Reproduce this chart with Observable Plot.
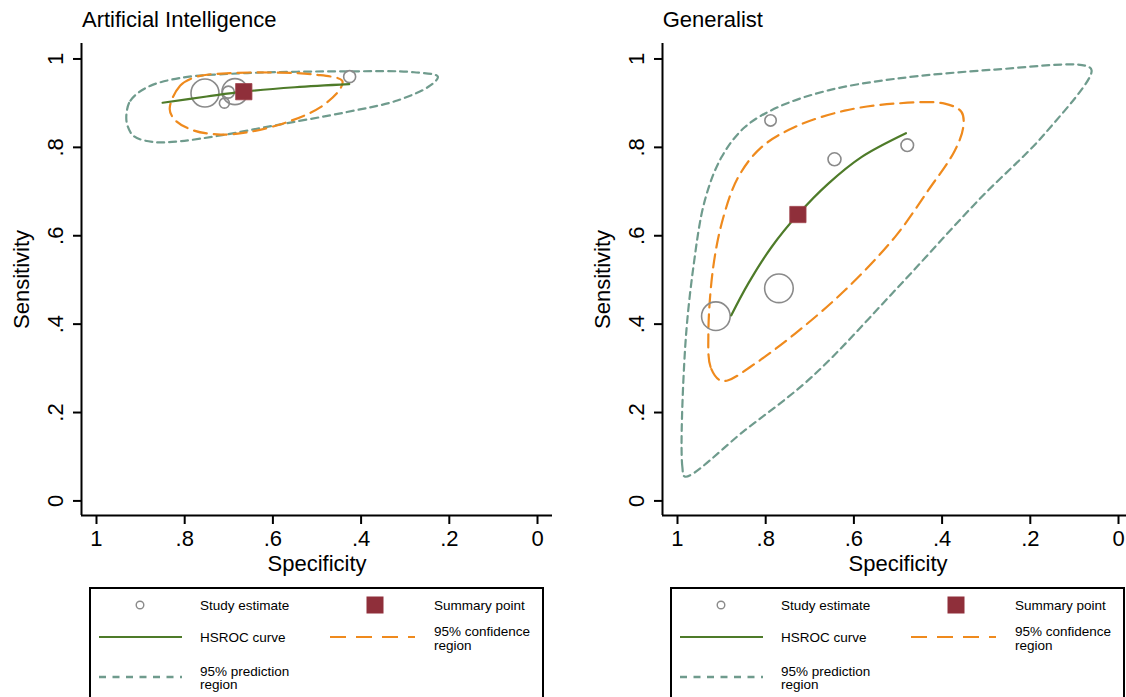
<!DOCTYPE html>
<html>
<head>
<meta charset="utf-8">
<script src="https://cdn.jsdelivr.net/npm/d3@7"></script>
<script src="https://cdn.jsdelivr.net/npm/@observablehq/plot@0.6"></script>
<style>
  html, body { margin: 0; padding: 0; background: #fff; overflow: hidden; }
  body { width: 1126px; height: 697px; position: relative; font-family: "Liberation Sans", Arial, sans-serif; }
  .panel { position: absolute; top: 0; width: 580px; height: 580px; }
  .panel svg { max-width: none !important; width: 580px !important; height: 580px !important; }
  .title { position: absolute; top: 9px; font-size: 22px; line-height: 22px; color: #000; white-space: nowrap; }
  .legend { position: absolute; top: 587px; }
  svg [aria-label="x-axis tick"] path, svg [aria-label="y-axis tick"] path, svg .tick line { stroke-width: 2; }
</style>
</head>
<body>
<script>
// ---------- data ----------
const xTicks = [1, 0.8, 0.6, 0.4, 0.2, 0];
const yTicks = [0, 0.2, 0.4, 0.6, 0.8, 1];
const tickValues = [0, 0.2, 0.4, 0.6, 0.8, 1];
const tickLabels = ["0", ".2", ".4", ".6", ".8", "1"];
const panelTitles = ["Artificial Intelligence", "Generalist"];

// Artificial Intelligence: [specificity, sensitivity, radius weight]
const aiStudies = [[0.754, 0.923, 14], [0.686, 0.926, 13], [0.701, 0.925, 6], [0.710, 0.900, 5], [0.426, 0.960, 6]];
const aiSummary = [[0.666, 0.926]];
const aiHsroc = [[0.850, 0.901], [0.75, 0.915], [0.666, 0.926], [0.55, 0.936], [0.427, 0.943]];
const aiConf = [[0.834, 0.887], [0.810, 0.940], [0.772, 0.960], [0.696, 0.968], [0.583, 0.969], [0.507, 0.965],
  [0.443, 0.951], [0.447, 0.933], [0.492, 0.891], [0.568, 0.857], [0.658, 0.834], [0.719, 0.829], [0.779, 0.838], [0.821, 0.861]];
const aiPred = [[0.932, 0.876], [0.923, 0.906], [0.885, 0.936], [0.810, 0.957], [0.658, 0.968], [0.432, 0.972], [0.280, 0.970],
  [0.226, 0.960], [0.243, 0.940], [0.318, 0.906], [0.432, 0.880], [0.583, 0.852], [0.719, 0.827], [0.810, 0.814],
  [0.870, 0.812], [0.915, 0.825], [0.930, 0.850]];

// Generalist
const genStudies = [[0.913, 0.418, 14.3], [0.770, 0.481, 14.3], [0.789, 0.861, 5.7], [0.644, 0.773, 6.5], [0.479, 0.805, 6.3]];
const genSummary = [[0.727, 0.648]];
const genHsroc = [[0.878, 0.420], [0.840, 0.491], [0.787, 0.574], [0.727, 0.648], [0.658, 0.718], [0.583, 0.778], [0.482, 0.832]];
const genConf = [[0.904, 0.273], [0.925, 0.303], [0.930, 0.378], [0.919, 0.529], [0.896, 0.642], [0.862, 0.733], [0.810, 0.800],
  [0.734, 0.846], [0.621, 0.883], [0.507, 0.899], [0.394, 0.899], [0.356, 0.880], [0.352, 0.846], [0.371, 0.793],
  [0.432, 0.702], [0.507, 0.597], [0.621, 0.476], [0.734, 0.378], [0.825, 0.310], [0.885, 0.273]];
const genPred = [[0.983, 0.055], [0.989, 0.077], [0.983, 0.341], [0.964, 0.529], [0.938, 0.680], [0.900, 0.778], [0.847, 0.846],
  [0.772, 0.891], [0.658, 0.929], [0.507, 0.955], [0.280, 0.976], [0.076, 0.985], [0.061, 0.974], [0.167, 0.831],
  [0.318, 0.680], [0.507, 0.476], [0.696, 0.280], [0.847, 0.160]];

const legendItems = ["Study estimate", "Summary point", "HSROC curve", "95% confidence|region", "95% prediction|region"];

// ---------- style ----------
const C = { pred: "#6f9b8d", conf: "#ef8a1d", hsroc: "#4e7b29", summary: "#8f2f3a", study: "#8a8a8a" };
const FONT = "'Liberation Sans', Arial, sans-serif";
const fmt = d => tickLabels[tickValues.findIndex(v => Math.abs(v - d) < 1e-9)];
const xDomain = [1.034, -0.034];
const yDomain = [-0.033, 1.035];

function panel(studies, summary, hsroc, conf, pred) {
  return Plot.plot({
    width: 580, height: 580,
    marginLeft: 81, marginRight: 28, marginTop: 43, marginBottom: 65,
    style: { fontSize: "22px", fontFamily: FONT, color: "#000", background: "transparent", overflow: "visible", maxWidth: "none" },
    x: { domain: xDomain, ticks: xTicks, tickFormat: fmt, tickSize: 9, tickPadding: 6, label: null },
    y: { domain: yDomain, ticks: yTicks, tickFormat: () => "", tickSize: 8, label: null },
    r: { type: "linear", domain: [0, 20], range: [0, 20] },
    marks: [
      Plot.line(pred, { x: d => d[0], y: d => d[1], stroke: C.pred, strokeWidth: 2.2, strokeDasharray: "7,5", curve: "catmull-rom-closed" }),
      Plot.line(conf, { x: d => d[0], y: d => d[1], stroke: C.conf, strokeWidth: 2.2, strokeDasharray: "13,7", curve: "catmull-rom-closed" }),
      Plot.dot(studies, { x: d => d[0], y: d => d[1], r: d => d[2], stroke: C.study, strokeWidth: 1.6, fill: "none" }),
      Plot.line(hsroc, { x: d => d[0], y: d => d[1], stroke: C.hsroc, strokeWidth: 2.2, curve: "catmull-rom" }),
      Plot.dot(summary, { x: d => d[0], y: d => d[1], symbol: "square", r: 9.2, fill: C.summary, stroke: "#a0444d", strokeWidth: 0.8 }),
      Plot.ruleX([xDomain[0]], { stroke: "#000", strokeWidth: 2 }),
      Plot.ruleY([yDomain[0]], { stroke: "#000", strokeWidth: 2 }),
      Plot.text(yTicks, { y: d => d, frameAnchor: "left", text: fmt, rotate: -90, dx: -26, fontSize: 22, textAnchor: "middle", lineAnchor: "middle", fill: "#000" }),
      Plot.text(["Sensitivity"], { frameAnchor: "left", text: d => d, rotate: -90, dx: -60, fontSize: 22, textAnchor: "middle", lineAnchor: "middle", fill: "#000" }),
      Plot.text(["Specificity"], { frameAnchor: "bottom", text: d => d, dy: 48, fontSize: 22, textAnchor: "middle", lineAnchor: "middle", fill: "#000" })
    ]
  });
}

function legend() {
  const svg = d3.create("svg").attr("width", 460).attr("height", 120)
    .style("font-family", FONT).style("font-size", "13.5px");
  svg.append("rect").attr("x", 1).attr("y", 1).attr("width", 453).attr("height", 200)
    .attr("fill", "#fff").attr("stroke", "#000").attr("stroke-width", 2);
  svg.append("circle").attr("cx", 51).attr("cy", 18).attr("r", 3.8).attr("fill", "none").attr("stroke", C.study).attr("stroke-width", 1.4);
  svg.append("rect").attr("x", 277.5).attr("y", 9.5).attr("width", 17).attr("height", 17).attr("fill", C.summary);
  svg.append("line").attr("x1", 10).attr("x2", 93).attr("y1", 50).attr("y2", 50).attr("stroke", C.hsroc).attr("stroke-width", 2.2);
  svg.append("line").attr("x1", 241).attr("x2", 326).attr("y1", 50).attr("y2", 50).attr("stroke", C.conf).attr("stroke-width", 2.2).attr("stroke-dasharray", "16,10");
  svg.append("line").attr("x1", 10).attr("x2", 93).attr("y1", 90).attr("y2", 90).attr("stroke", C.pred).attr("stroke-width", 2.6).attr("stroke-dasharray", "7,6.5");
  const texts = [
    [legendItems[0], 111, [18]],
    [legendItems[1], 345, [18]],
    [legendItems[2], 111, [50]],
    [legendItems[3], 345, [44, 58]],
    [legendItems[4], 111, [84, 97.5]]
  ];
  for (const [t, x, ys] of texts) {
    t.split("|").forEach((line, i) => {
      svg.append("text").attr("x", x).attr("y", ys[i]).attr("dy", "0.35em").attr("fill", "#000").text(line);
    });
  }
  return svg.node();
}

const panels = [
  [aiStudies, aiSummary, aiHsroc, aiConf, aiPred],
  [genStudies, genSummary, genHsroc, genConf, genPred]
];
const offsets = [0, 580.7];
panels.forEach((p, i) => {
  const div = document.createElement("div");
  div.className = "panel";
  div.style.left = offsets[i] + "px";
  div.appendChild(panel(...p));
  document.body.appendChild(div);

  const t = document.createElement("div");
  t.className = "title";
  t.style.left = (offsets[i] + 82) + "px";
  t.textContent = panelTitles[i];
  document.body.appendChild(t);

  const lg = document.createElement("div");
  lg.className = "legend";
  lg.style.left = (offsets[i] + 89) + "px";
  lg.appendChild(legend());
  document.body.appendChild(lg);
});
</script>
</body>
</html>
